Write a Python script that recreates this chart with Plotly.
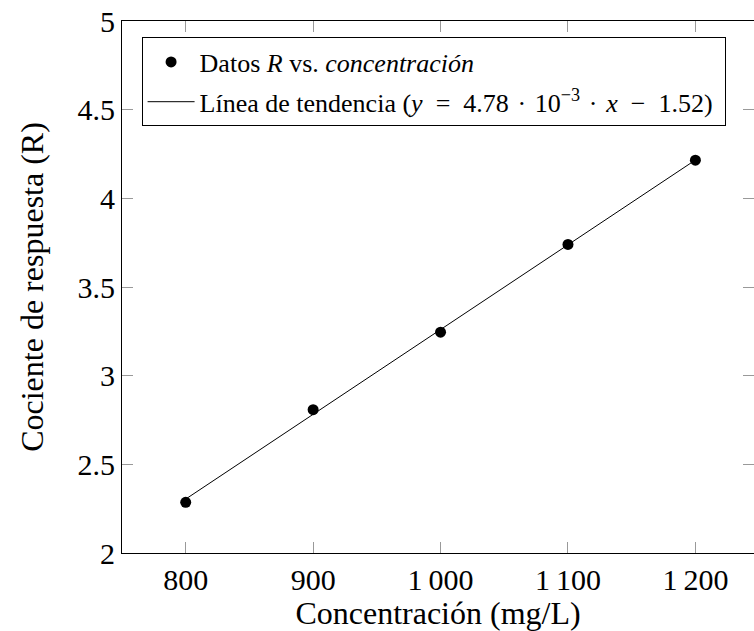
import plotly.graph_objects as go

# Data
conc = [800, 900, 1000, 1100, 1200]
ratio = [2.286, 2.808, 3.245, 3.74, 4.215]
trend_x = [800, 1200]
trend_y = [2.304, 4.216]

x_tickvals = [800, 900, 1000, 1100, 1200]
x_ticktext = ["800", "900", "1\u2009000", "1\u2009100", "1\u2009200"]
y_tickvals = [2, 2.5, 3, 3.5, 4, 4.5, 5]
y_ticktext = ["2", "2.5", "3", "3.5", "4", "4.5", "5"]

SERIF = "Liberation Serif"
EN = "\u2002"   # en space (relation / minus spacing)
TP = "\u2004"   # three-per-em space (dot spacing)

trend_name = ("Línea de tendencia (<i>y</i>" + EN + "=" + EN + "4.78" + TP + "·" + TP
              + "10<sup>−3</sup>" + TP + "·" + TP + "<i>x</i>" + EN + "−" + EN + "1.52)\u2005")

fig = go.Figure()

fig.add_trace(go.Scatter(
    x=trend_x, y=trend_y, mode="lines",
    line=dict(color="black", width=1),
    name=trend_name,
    legendrank=2, legendgroup="b",
))
fig.add_trace(go.Scatter(
    x=conc, y=ratio, mode="markers",
    marker=dict(color="black", size=11, symbol="circle"),
    name="Datos <i>R</i> vs. <i>concentración</i>",
    legendrank=1, legendgroup="a",
))
# invisible trace to activate the right-hand tick axis
fig.add_trace(go.Scatter(
    x=[None], y=[None], yaxis="y2", showlegend=False, hoverinfo="skip",
))

fig.update_layout(
    width=754, height=631,
    margin=dict(l=122, r=0, t=21, b=78),
    paper_bgcolor="white", plot_bgcolor="white",
    font=dict(family=SERIF, color="black", size=30),
    showlegend=True,
    legend=dict(
        x=0.031, y=0.969, xanchor="left", yanchor="top",
        bgcolor="white", bordercolor="black", borderwidth=1,
        font=dict(family=SERIF, size=26, color="black"),
        traceorder="grouped", tracegroupgap=3, itemwidth=47,
    ),
    xaxis=dict(
        range=[750, 1246], tickvals=x_tickvals, ticktext=x_ticktext,
        ticks="inside", ticklen=11, tickcolor="#999", tickwidth=1,
        showline=True, linecolor="black", linewidth=1, mirror="ticks",
        showgrid=False, zeroline=False,
        tickfont=dict(family=SERIF, size=30),
        title=dict(text="Concentración (mg/L)", font=dict(family=SERIF, size=32), standoff=8),
    ),
    yaxis=dict(
        range=[2, 5], tickvals=y_tickvals, ticktext=y_ticktext,
        ticks="inside", ticklen=11, tickcolor="#999", tickwidth=1,
        showline=True, linecolor="black", linewidth=1, mirror=False,
        showgrid=False, zeroline=False,
        tickfont=dict(family=SERIF, size=30),
        title=dict(text="Cociente de respuesta (R)", font=dict(family=SERIF, size=32), standoff=24),
    ),
    yaxis2=dict(
        range=[2, 5], tickvals=y_tickvals, overlaying="y", side="right",
        ticks="inside", ticklen=11, tickcolor="#999", tickwidth=1,
        showline=False, showgrid=False, zeroline=False, showticklabels=False,
    ),
)

fig.write_html("out.html")
